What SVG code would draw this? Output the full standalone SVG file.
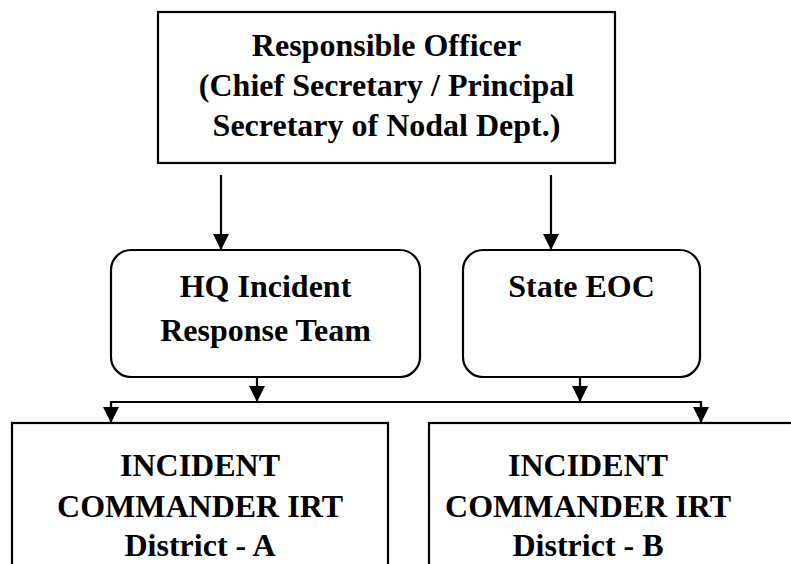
<svg xmlns="http://www.w3.org/2000/svg" width="791" height="564" viewBox="0 0 791 564">
  <style>
    .box { fill: #ffffff; stroke: #000000; stroke-width: 2.2; }
    .lbl { font-family: "Liberation Serif", "Times New Roman", serif; font-weight: bold; font-size: 32px; fill: #000000; text-anchor: middle; }
    .wire { fill: none; stroke: #000000; stroke-width: 2.2; }
  </style>
  <defs>
    <marker id="arrow" markerUnits="userSpaceOnUse" markerWidth="16" markerHeight="16" refX="16" refY="8" orient="auto">
      <path d="M0,0 L16,8 L0,16 z" fill="#000000"/>
    </marker>
  </defs>
  <rect width="791" height="564" fill="#ffffff"/>

  <g id="responsible-officer">
    <rect class="box" x="158" y="12" width="457" height="151"/>
    <text class="lbl" x="386.5" y="56">Responsible Officer</text>
    <text class="lbl" x="386.5" y="96">(Chief Secretary / Principal</text>
    <text class="lbl" x="386.5" y="136">Secretary of Nodal Dept.)</text>
  </g>

  <g id="hq-irt">
    <rect class="box" x="111" y="250" width="309" height="127" rx="20" ry="20"/>
    <text class="lbl" x="265.5" y="297">HQ Incident</text>
    <text class="lbl" x="265.5" y="341">Response Team</text>
  </g>

  <g id="state-eoc">
    <rect class="box" x="463" y="250" width="237" height="127" rx="20" ry="20"/>
    <text class="lbl" x="581.5" y="297">State EOC</text>
  </g>

  <!-- lower boxes run past the bottom edge of the sheet -->
  <g id="ic-district-a">
    <rect class="box" x="12" y="423" width="376" height="180"/>
    <text class="lbl" x="200" y="476">INCIDENT</text>
    <text class="lbl" x="200" y="517">COMMANDER IRT</text>
    <text class="lbl" x="200" y="556">District - A</text>
  </g>

  <g id="ic-district-b">
    <rect class="box" x="429" y="423" width="380" height="180"/>
    <text class="lbl" x="588" y="476">INCIDENT</text>
    <text class="lbl" x="588" y="517">COMMANDER IRT</text>
    <text class="lbl" x="588" y="556">District - B</text>
  </g>

  <g id="connectors">
    <line class="wire" x1="221" y1="175" x2="221" y2="250" marker-end="url(#arrow)"/>
    <line class="wire" x1="551" y1="175" x2="551" y2="250" marker-end="url(#arrow)"/>
    <line class="wire" x1="257" y1="377" x2="257" y2="402" marker-end="url(#arrow)"/>
    <line class="wire" x1="580" y1="377" x2="580" y2="402" marker-end="url(#arrow)"/>
    <polyline class="wire" points="111,408 111,402 701,402 701,408"/>
    <line class="wire" x1="111" y1="403" x2="111" y2="423" marker-end="url(#arrow)"/>
    <line class="wire" x1="701" y1="403" x2="701" y2="423" marker-end="url(#arrow)"/>
  </g>
</svg>
